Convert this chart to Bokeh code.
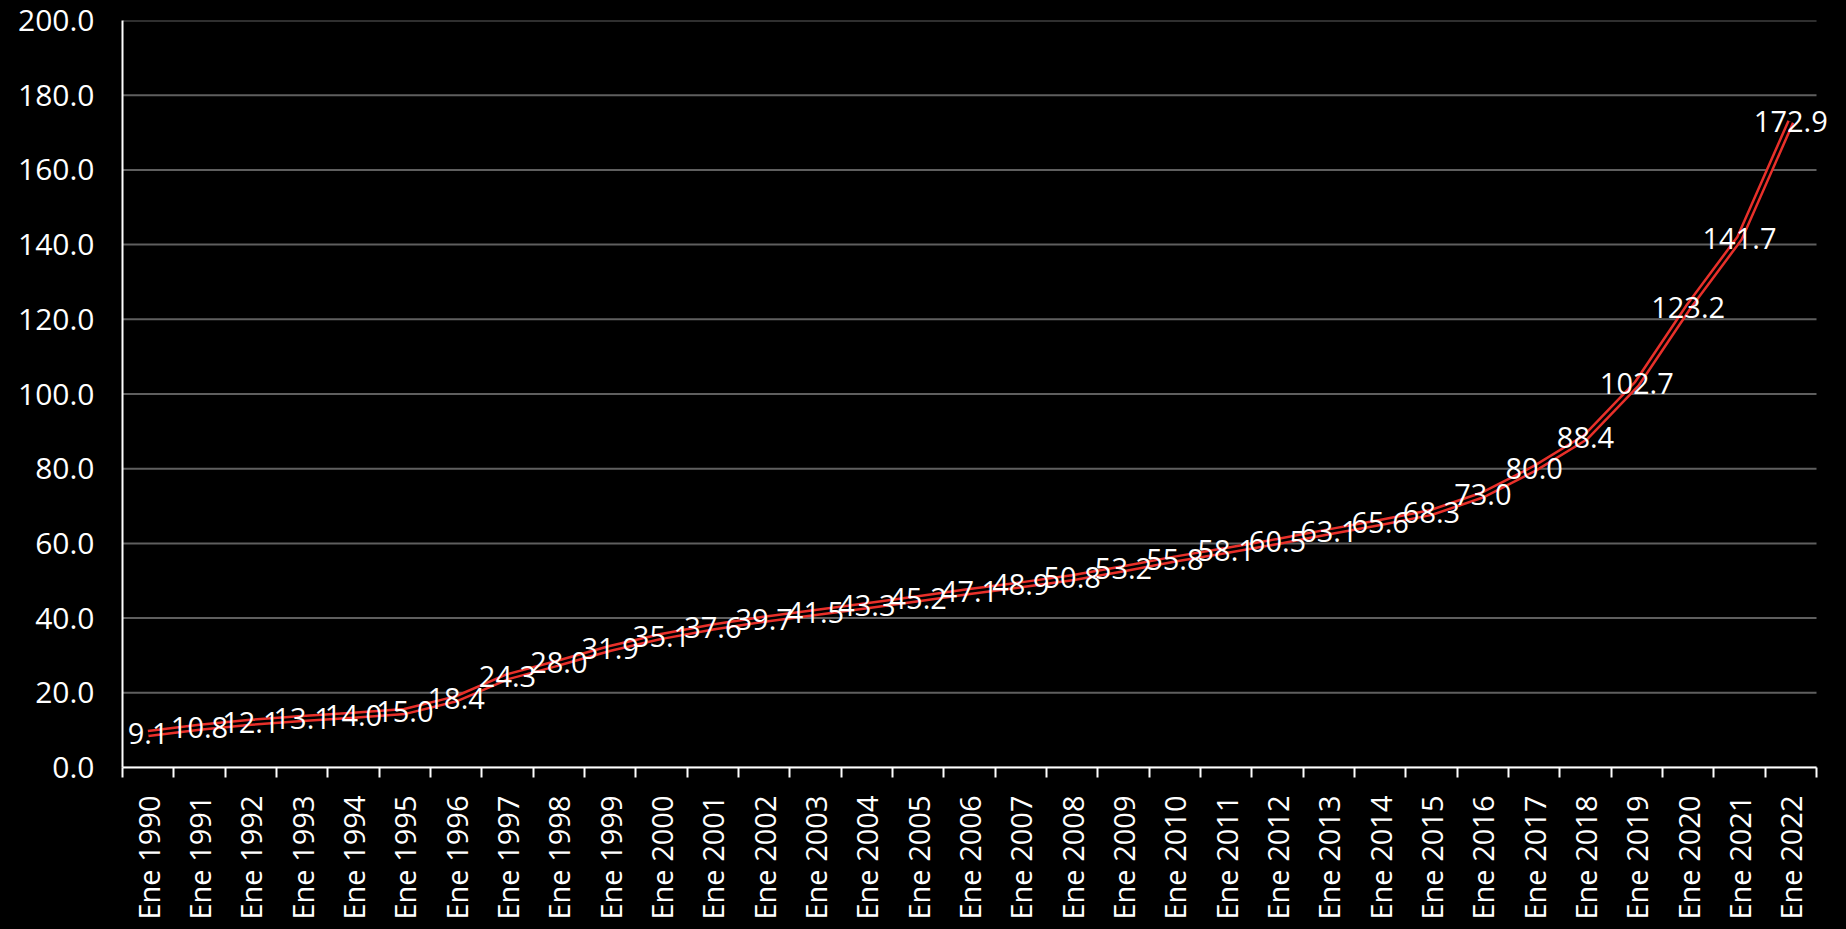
import math
from bokeh.plotting import figure
from bokeh.models import ColumnDataSource, FixedTicker, NumeralTickFormatter, Range1d, LabelSet
from bokeh.core.properties import value
from bokeh.embed import file_html
from bokeh.resources import INLINE

years = list(range(1990, 2023))
labels = [f"Ene {y}" for y in years]
values = [9.1, 10.8, 12.1, 13.1, 14.0, 15.0, 18.4, 24.3, 28.0, 31.9, 35.1, 37.6, 39.7,
          41.5, 43.3, 45.2, 47.1, 48.9, 50.8, 53.2, 55.8, 58.1, 60.5, 63.1, 65.6, 68.3,
          73.0, 80.0, 88.4, 102.7, 123.2, 141.7, 172.9]
y_ticks = [0, 20, 40, 60, 80, 100, 120, 140, 160, 180, 200]

FONT = "Open Sans"
n = len(labels)
xs = [i + 0.5 for i in range(n)]
src = ColumnDataSource(dict(x=xs, y=values, txt=[f"{v:.1f}" for v in values]))

PLOT_W = 1694   # width of the category area
EXTRA_W = 22    # room at the right for the last data label
fw = PLOT_W + EXTRA_W

p = figure(frame_width=fw, frame_height=747, output_backend="svg", toolbar_location=None,
           x_range=Range1d(0, n * fw / PLOT_W), y_range=Range1d(0, 200),
           min_border_left=122, min_border_top=20, min_border_right=0, min_border_bottom=10)
p.background_fill_color = "black"
p.border_fill_color = "black"
p.outline_line_color = None

# grid lines limited to the category area
grid_src = ColumnDataSource(dict(x0=[0] * len(y_ticks), x1=[n] * len(y_ticks), y=y_ticks))
p.segment(x0="x0", y0="y", x1="x1", y1="y", source=grid_src, line_color="#5f5f5f", line_width=2)
p.xgrid.grid_line_color = None
p.ygrid.grid_line_color = None

# x axis
p.xaxis.bounds = (0, n)
p.xaxis.ticker = FixedTicker(ticks=xs, minor_ticks=list(range(n + 1)))
p.xaxis.major_label_overrides = {x: l for x, l in zip(xs, labels)}
p.xaxis.major_label_orientation = math.pi / 2
p.xaxis.major_tick_line_color = None
p.xaxis.minor_tick_line_color = "white"
p.xaxis.minor_tick_line_width = 2
p.xaxis.minor_tick_out = 10
p.xaxis.minor_tick_in = 0
p.xaxis.axis_line_color = "white"
p.xaxis.axis_line_width = 2
p.xaxis.major_label_text_color = "white"
p.xaxis.major_label_text_font = FONT
p.xaxis.major_label_text_font_size = "29px"
p.xaxis.major_label_standoff = 18
# y axis
p.yaxis.ticker = FixedTicker(ticks=y_ticks)
p.yaxis.formatter = NumeralTickFormatter(format="0.0")
p.yaxis.major_tick_line_color = None
p.yaxis.minor_tick_line_color = None
p.yaxis.axis_line_color = "white"
p.yaxis.axis_line_width = 2
p.yaxis.major_label_text_color = "white"
p.yaxis.major_label_text_font = FONT
p.yaxis.major_label_text_font_size = "30px"
p.yaxis.major_label_standoff = 22

# double line
p.line("x", "y", source=src, line_color="#e8302a", line_width=7.5)
p.line("x", "y", source=src, line_color="black", line_width=2.5)

p.add_layout(LabelSet(x="x", y="y", text="txt", source=src, text_color="white",
                      text_font=value(FONT), text_font_size="29px",
                      text_align="center", text_baseline="middle"))

html = file_html(p, INLINE)
html = html.replace("<body>", '<body style="background-color:black;">')
open("out.html", "w").write(html)
